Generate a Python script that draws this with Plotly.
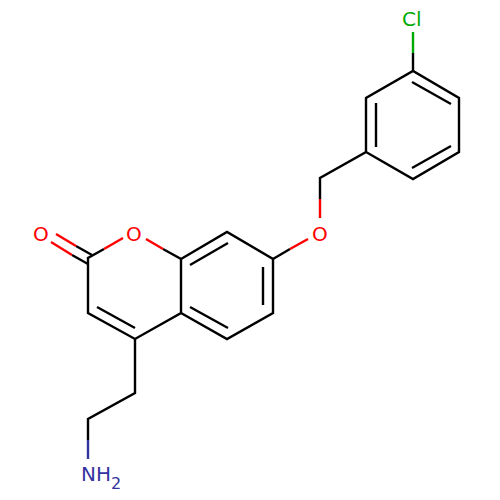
# %% molecule sketch
import plotly.graph_objects as go

# atom positions
c2 = (88, 258)
c3 = (88, 313)
c4 = (135, 339)
c4a = (181, 313)
c5 = (227, 339)
c6 = (273, 313)
c7 = (273, 259)
c8 = (227, 232)
c8a = (181, 259)
ch2_o = (320, 178)
c1b = (366, 152)
c2b = (366, 98)
c3b = (413, 71)
c4b = (459, 98)
c5b = (459, 152)
c6b = (413, 179)
ch2_a = (135, 393)
ch2_b = (88, 419)

# bonds as polylines, split by colour where they reach a hetero atom
black_paths = [
    [(104, 249), c2, c3, c4, c4a, c8a, (163, 249)],
    [c4a, c5, c6, c7, c8, c8a],
    [c7, (290, 249)],
    [c4, ch2_a, ch2_b, (88, 440)],
    [(320, 199), ch2_o, c1b, c2b, c3b, c4b, c5b, c6b, c1b],
    [c3b, (413, 53)],
    [(72, 255), (88, 264)],
    [(76, 246), (92, 255)],
    [(97, 307), (135, 328)],
    [(190, 265), (228, 243)],
    [(190, 307), (228, 328)],
    [(263, 267), (263, 305)],
    [(412, 82), (451, 104)],
    [(376, 103), (376, 147)],
    [(412, 168), (451, 146)],
]
red_paths = [
    [(104, 249), (123, 238)],
    [(146, 239), (163, 249)],
    [(290, 249), (308, 239)],
    [(320, 199), (320, 218)],
    [(51, 242), (72, 255)],
    [(56, 234), (76, 246)],
]
green_paths = [[(413, 32), (413, 53)]]
blue_paths = [[(88, 440), (88, 459)]]

black = "#000000"
red = "#ff0000"
green = "#00aa00"
blue = "#3333a0"

# labels
label_text = ["O", "O", "O", "Cl", "NH", "2"]
label_x = [41, 134, 320, 412, 96, 116]
label_y = [233.5, 233.5, 233.5, 19, 473.5, 483.5]
label_color = [red, red, red, green, blue, blue]
label_size = [20, 20, 20, 20, 20, 16]


def addPaths(fig, paths, color):
    for path in paths:
        fig.add_trace(go.Scatter(x=[p[0] for p in path], y=[p[1] for p in path],
                                 mode='lines', line=dict(color=color, width=2.4),
                                 hoverinfo='skip', showlegend=False))


def main():
    fig = go.Figure()
    addPaths(fig, black_paths, black)
    addPaths(fig, red_paths, red)
    addPaths(fig, green_paths, green)
    addPaths(fig, blue_paths, blue)

    for i in range(len(label_text)):
        fig.add_annotation(x=label_x[i], y=label_y[i], text=label_text[i], showarrow=False,
                           font=dict(family="DejaVu Sans", size=label_size[i], color=label_color[i]))

    fig.update_xaxes(range=[0, 500], visible=False)
    fig.update_yaxes(range=[500, 0], visible=False)
    fig.update_layout(width=500, height=500, margin=dict(l=0, r=0, t=0, b=0),
                      paper_bgcolor="white", plot_bgcolor="white", showlegend=False)
    # page body has a default margin, drop it so the figure sits at 0,0
    fig.write_html("out.html", config=dict(displayModeBar=False),
                   post_script="document.body.style.margin='0';")


if __name__ == '__main__':
    main()
